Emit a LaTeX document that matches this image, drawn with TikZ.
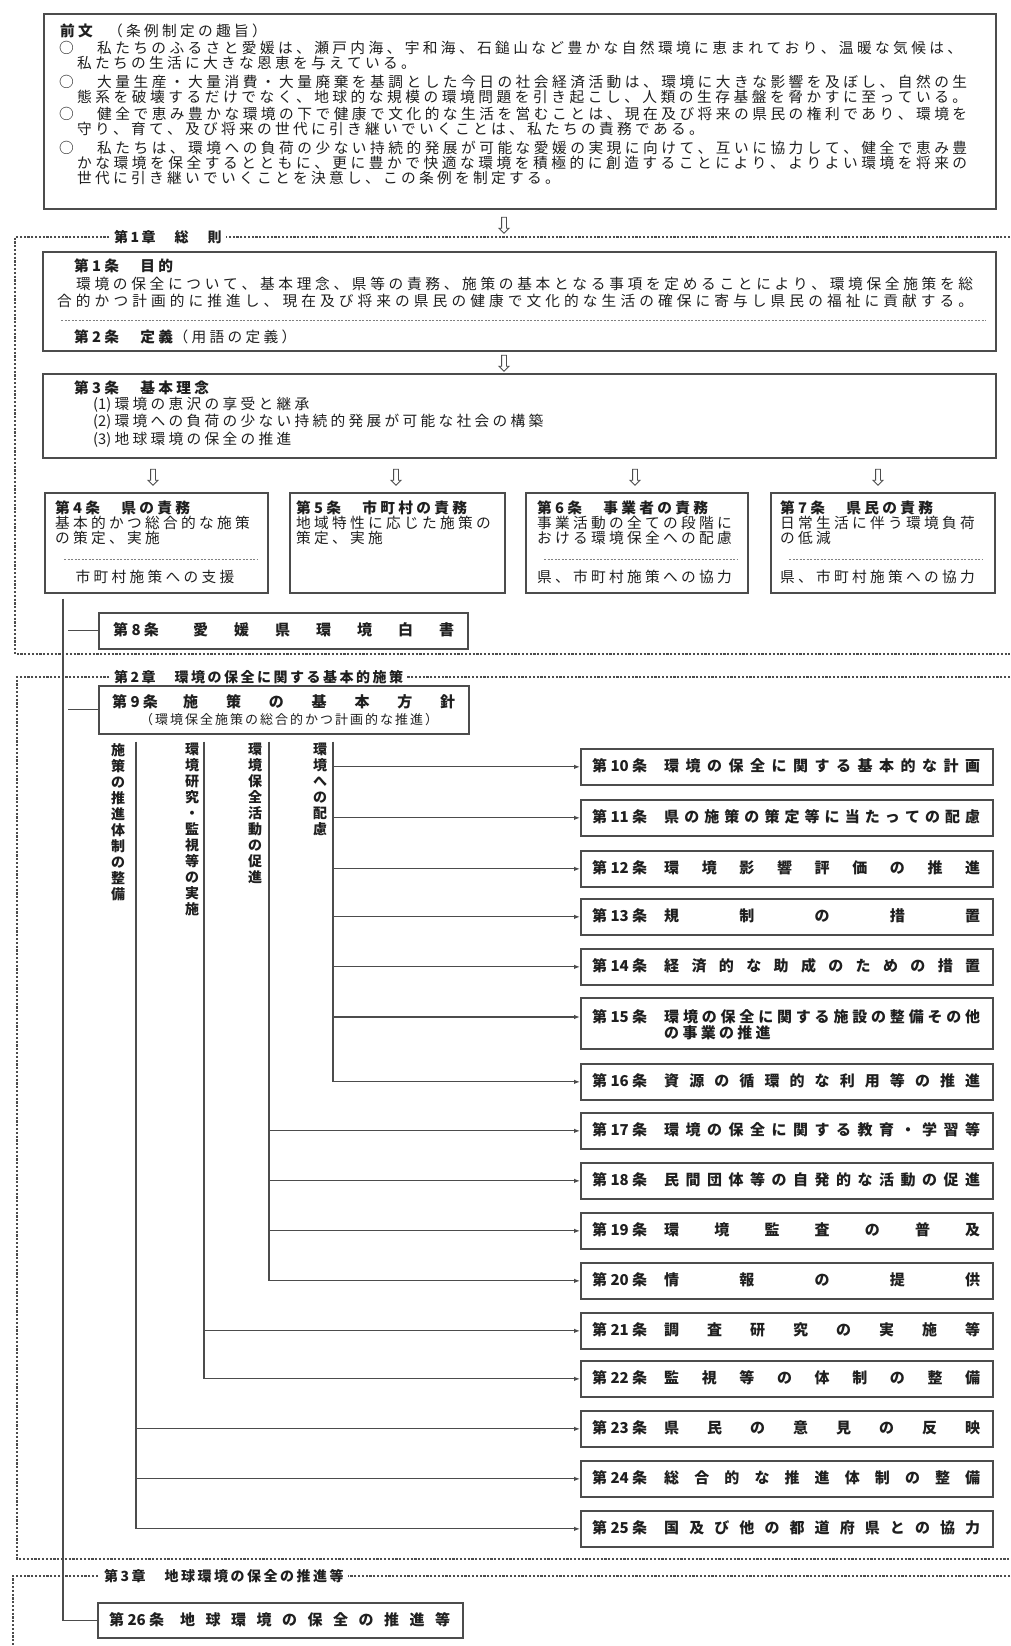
\documentclass[tikz,border=0pt]{standalone}
\usepackage{fontspec}
\newfontfamily\jp{Noto Sans CJK JP}
\usetikzlibrary{arrows.meta,calc,shapes.arrows}
\definecolor{ink}{gray}{0.12}
\definecolor{linec}{gray}{0.3}
\newcount\cjkcc
\newdimen\cjkgap
\cjkgap=3.3pt
\def\cjkglue{\hskip\cjkgap plus 1fil minus 2pt\relax}
\newcommand\spr[2]{\hbox to #1{#2}}
\cjkcc="3000
\loop\XeTeXcharclass\cjkcc=7 \advance\cjkcc by 1 \ifnum\cjkcc<"A000 \repeat
\cjkcc="FF00
\loop\XeTeXcharclass\cjkcc=7 \advance\cjkcc by 1 \ifnum\cjkcc<"FFF0 \repeat
\XeTeXinterchartoks 7 7 = {\cjkglue}
\XeTeXinterchartoks 7 0 = {\cjkglue}
\XeTeXinterchartoks 0 7 = {\cjkglue}
\XeTeXinterchartokenstate=1
\def\subfont{\jp\fontsize{13}{14}\selectfont\cjkgap=2pt}
\def\chapfont{\jp\bfseries\fontsize{14}{16}\selectfont\cjkgap=2.5pt}
\begin{document}
\begin{tikzpicture}[x=1pt,y=-1pt,
  box/.style={draw=linec, line width=1.7pt, fill=white, inner sep=0pt, anchor=north west},
  txt/.style={anchor=west, inner sep=0pt, text=ink, font=\jp\fontsize{14.7}{16}\selectfont},
  hd/.style={txt, font=\jp\bfseries\fontsize{14.7}{16}\selectfont},
  art/.style={txt, font=\jp\bfseries\fontsize{15}{16}\selectfont},
  subt/.style={txt, font=\subfont},
  vlab/.style={anchor=north, inner sep=0pt, text=ink, align=center, font=\jp\bfseries\fontsize{14}{16}\selectfont},
  frame/.style={draw=linec, line width=1.3pt, dash pattern=on 2.2pt off 1.6pt},
  sepl/.style={draw=gray, line width=0.9pt, dash pattern=on 2pt off 1.5pt},
  conn/.style={draw=linec, line width=1.2pt},
  arr/.style={conn, -{Latex[length=6pt,width=4.5pt]}},
  hollow/.style={single arrow, draw=linec, fill=white, line width=0.9pt, shape border rotate=270, minimum height=16pt, minimum width=9pt, single arrow head extend=2.5pt, inner sep=2pt},
  chap/.style={txt, font=\chapfont, fill=white, inner xsep=4pt, inner ysep=1pt}]
\fill[white] (0,0) rectangle (1010,1646);
\useasboundingbox (0,0) rectangle (1010,1646);

% chapter frames
\draw[frame] (1010,237) -- (15,237) -- (15,654) -- (1010,654);
\draw[frame] (1010,677) -- (17,677) -- (17,1559) -- (1010,1559);
\draw[frame] (1010,1576) -- (13,1576) -- (13,1646);
\node[chap] (c1) at (110,237) {第1章　総　則};
\node[chap] (c2) at (110,677) {第2章　環境の保全に関する基本的施策};
\node[chap] (c3) at (100,1576) {第3章　地球環境の保全の推進等};

% preamble
\node[box, minimum width=952pt, minimum height=195pt] (pre) at (43,13) {};
\node[hd] (p0) at (60,31) {前文};
\node[txt] (p0b) at (108,31) {（条例制定の趣旨）};
\node[txt] (o1) at (59,48) {○};
\node[txt] (p1) at (97,48) {\spr{865pt}{私たちのふるさと愛媛は、瀬戸内海、宇和海、石鎚山など豊かな自然環境に恵まれており、温暖な気候は、}};
\node[txt] (p2) at (77,63) {私たちの生活に大きな恩恵を与えている。};
\node[txt] (o2) at (59,82) {○};
\node[txt] (p3) at (97,82) {\spr{870pt}{大量生産・大量消費・大量廃棄を基調とした今日の社会経済活動は、環境に大きな影響を及ぼし、自然の生}};
\node[txt] (p4) at (77,97) {\spr{890pt}{態系を破壊するだけでなく、地球的な規模の環境問題を引き起こし、人類の生存基盤を脅かすに至っている。}};
\node[txt] (o3) at (59,114) {○};
\node[txt] (p5) at (97,114) {\spr{870pt}{健全で恵み豊かな環境の下で健康で文化的な生活を営むことは、現在及び将来の県民の権利であり、環境を}};
\node[txt] (p6) at (77,129) {守り、育て、及び将来の世代に引き継いでいくことは、私たちの責務である。};
\node[txt] (o4) at (59,148) {○};
\node[txt] (p7) at (97,148) {\spr{870pt}{私たちは、環境への負荷の少ない持続的発展が可能な愛媛の実現に向けて、互いに協力して、健全で恵み豊}};
\node[txt] (p8) at (77,163) {\spr{890pt}{かな環境を保全するとともに、更に豊かで快適な環境を積極的に創造することにより、よりよい環境を将来の}};
\node[txt] (p9) at (77,178) {世代に引き継いでいくことを決意し、この条例を制定する。};

\node[hollow] (h1) at (504,224) {};

% article 1 / 2
\node[box, minimum width=953pt, minimum height=99pt] (a1) at (42,251) {};
\node[hd] (a1h) at (74,266) {第1条　目的};
\node[txt] (a1l1) at (76,284) {\spr{897pt}{環境の保全について、基本理念、県等の責務、施策の基本となる事項を定めることにより、環境保全施策を総}};
\node[txt] (a1l2) at (57,301) {\spr{916pt}{合的かつ計画的に推進し、現在及び将来の県民の健康で文化的な生活の確保に寄与し県民の福祉に貢献する。}};
\draw[sepl] (61,320) -- (986,320);
\node[hd] (a2h) at (74,337) {第2条　定義};
\node[txt] (a2b) at (a2h.east) {（用語の定義）};

\node[hollow] (h2) at (504,362) {};

% article 3
\node[box, minimum width=953pt, minimum height=84pt] (a3) at (42,373) {};
\node[hd] (a3h) at (74,388) {第3条　基本理念};
\node[txt] (a3i1) at (93,405) {(1)環境の恵沢の享受と継承};
\node[txt] (a3i2) at (93,422) {(2)環境への負荷の少ない持続的発展が可能な社会の構築};
\node[txt] (a3i3) at (93,440) {(3)地球環境の保全の推進};

\node[hollow] (h3) at (153,476) {};
\node[hollow] (h4) at (396,476) {};
\node[hollow] (h5) at (635,476) {};
\node[hollow] (h6) at (878,476) {};

% articles 4-7
\node[box, minimum width=223pt, minimum height=100pt] (a4) at (44,492) {};
\node[hd] at (55,508) {第4条　県の責務};
\node[txt] at (55,523) {基本的かつ総合的な施策};
\node[txt] at (55,538) {の策定、実施};
\draw[sepl] (64,559) -- (258,559);
\node[txt, anchor=center] at (155,577) {市町村施策への支援};

\node[box, minimum width=215pt, minimum height=100pt] (a5) at (289,492) {};
\node[hd] at (296,508) {第5条　市町村の責務};
\node[txt] at (296,523) {地域特性に応じた施策の};
\node[txt] at (296,538) {策定、実施};

\node[box, minimum width=222pt, minimum height=100pt] (a6) at (525,492) {};
\node[hd] at (537,508) {第6条　事業者の責務};
\node[txt] at (537,523) {事業活動の全ての段階に};
\node[txt] at (537,538) {おける環境保全への配慮};
\draw[sepl] (544,559) -- (737,559);
\node[txt] at (537,577) {県、市町村施策への協力};

\node[box, minimum width=224pt, minimum height=100pt] (a7) at (770,492) {};
\node[hd] at (780,508) {第7条　県民の責務};
\node[txt] at (780,523) {日常生活に伴う環境負荷};
\node[txt] at (780,538) {の低減};
\draw[sepl] (789,559) -- (983,559);
\node[txt] at (780,577) {県、市町村施策への協力};

% article 8
\node[box, minimum width=369pt, minimum height=36pt] (a8) at (98,612) {};
\node[art] at (113,630) {第8条};
\node[art] at (193,630) {\spr{261pt}{愛媛県環境白書}};

% article 9
\node[box, minimum width=370pt, minimum height=48pt] (a9) at (98,685) {};
\node[art] at (112,702) {第9条};
\node[art] at (183,702) {\spr{272pt}{施策の基本方針}};
\node[subt] at (140,720) {（環境保全施策の総合的かつ計画的な推進）};

% vertical labels
\node[vlab] (v1) at (118,743) {施\\策\\の\\推\\進\\体\\制\\の\\整\\備};
\node[vlab] (v2) at (192,743) {環\\境\\研\\究\\・\\監\\視\\等\\の\\実\\施};
\node[vlab] (v3) at (255,743) {環\\境\\保\\全\\活\\動\\の\\促\\進};
\node[vlab] (v4) at (320,743) {環\\境\\へ\\の\\配\\慮};

% articles 10-25
\foreach \n/\ty/\tx in {10/748/環境の保全に関する基本的な計画, 11/799/県の施策の策定等に当たっての配慮, 12/850/環境影響評価の推進, 13/898/規制の措置, 14/948/経済的な助成のための措置, 16/1063/資源の循環的な利用等の推進, 17/1112/環境の保全に関する教育・学習等, 18/1162/民間団体等の自発的な活動の促進, 19/1212/環境監査の普及, 20/1262/情報の提供, 21/1312/調査研究の実施等, 22/1360/監視等の体制の整備, 23/1410/県民の意見の反映, 24/1460/総合的な推進体制の整備, 25/1510/国及び他の都道府県との協力}{
  \node[box, minimum width=412pt, minimum height=36pt] (a\n) at (580,\ty) {};
  \node[art] (l\n) at (592,\ty+18) {第\n 条};
  \node[art] (t\n) at (664,\ty+18) {\spr{316pt}{\tx}};
}
\node[box, minimum width=412pt, minimum height=51pt] (a15) at (580,997) {};
\node[art] (l15) at (592,1017) {第15条};
\node[art] (t15) at (664,1017) {\spr{316pt}{環境の保全に関する施設の整備その他}};
\node[art] (t15b) at (664,1033) {の事業の推進};
\coordinate (a15t) at ($(a15.north west)+(0,20)$);

% article 26
\node[box, minimum width=365pt, minimum height=35pt] (a26) at (97,1602) {};
\node[art] (l26) at (109,1620) {第26条};
\node[art] (t26) at (180,1620) {\spr{270pt}{地球環境の保全の推進等}};

% connectors
\coordinate (tr) at ($(a4.south west)+(19,5)$);
\draw[conn] (tr) |- (a26.west);
\draw[conn] ($(tr |- a8.west)+(5,0)$) -- (a8.west);
\draw[conn] ($(tr |- a9.west)+(5,0)$) -- (a9.west);

\coordinate (vA) at ($(a9.south west)+(38,7)$);
\coordinate (vB) at ($(a9.south west)+(106,7)$);
\coordinate (vC) at ($(a9.south west)+(171,7)$);
\coordinate (vD) at ($(a9.south west)+(235,7)$);

\foreach \n in {10,11,12,13,14} \draw[arr] (vD |- a\n.west) -- (a\n.west);
\draw[arr] (vD |- a15t) -- (a15t);
\draw[arr] (vD) |- (a16.west);
\foreach \n in {17,18,19} \draw[arr] (vC |- a\n.west) -- (a\n.west);
\draw[arr] (vC) |- (a20.west);
\draw[arr] (vB |- a21.west) -- (a21.west);
\draw[arr] (vB) |- (a22.west);
\foreach \n in {23,24} \draw[arr] (vA |- a\n.west) -- (a\n.west);
\draw[arr] (vA) |- (a25.west);
\end{tikzpicture}
\end{document}
